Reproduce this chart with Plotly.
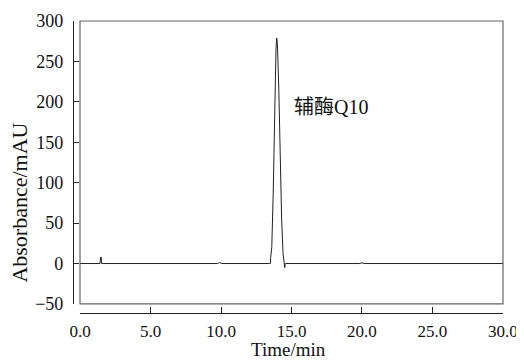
import plotly.graph_objects as go

# Chromatogram (time in min, absorbance in mAU)
time_min = [0.0, 1.42, 1.47, 1.5, 1.53, 1.58, 9.75, 9.9, 10.05, 13.45, 13.5, 13.52,
            13.6, 13.7, 13.8, 13.9, 13.95, 14.0, 14.1, 14.2, 14.3, 14.4, 14.48,
            14.52, 14.56, 19.85, 20.0, 20.15, 30.0]
absorbance = [0.0, 0.0, 8.0, 8.0, 0.0, 0.0, 0.0, 1.2, 0.0, 0.0, 0.0, 7.0,
              20.0, 85.0, 185.0, 265.0, 279.0, 272.0, 215.0, 130.0, 55.0, 12.0, 2.0,
              -5.0, 0.0, 0.0, 1.0, 0.0, 0.0]

x_ticks = [0, 5, 10, 15, 20, 25, 30]
y_ticks = [-50, 0, 50, 100, 150, 200, 250, 300]
peak_label = "辅酶Q10"
peak_label_pos = (15.0, 194)
x_title = "Time/min"
y_title = "Absorbance/mAU"

FONT = "Liberation Serif, Times New Roman, Noto Sans CJK SC, serif"

fig = go.Figure()
fig.add_trace(go.Scatter(x=time_min, y=absorbance, mode="lines",
                         line=dict(color="#222222", width=1), hoverinfo="skip",
                         showlegend=False))

fig.add_annotation(x=peak_label_pos[0], y=peak_label_pos[1], text=peak_label,
                   showarrow=False, xanchor="left", yanchor="middle",
                   font=dict(family=FONT, size=20, color="#111111"))

# axis titles
fig.add_annotation(xref="paper", yref="paper", x=0.5, y=-0.1644, text=x_title,
                   showarrow=False, xanchor="center", yanchor="bottom",
                   borderpad=0,
                   font=dict(family=FONT, size=19, color="#111111"))
fig.add_annotation(xref="paper", yref="paper", x=-0.124, y=0.377, text=y_title,
                   showarrow=False, xanchor="center", yanchor="middle", textangle=-90,
                   font=dict(family=FONT, size=22, color="#111111"))

# plot frame
fig.add_shape(type="rect", xref="x domain", yref="y domain", x0=0, x1=1, y0=0, y1=1,
              line=dict(color="#666666", width=1.2), fillcolor="rgba(0,0,0,0)")

# the page body adds an 8px offset, so the figure is 8px smaller
fig.update_layout(
    width=516, height=353,
    margin=dict(l=65, r=21, t=13, b=48, autoexpand=False),
    paper_bgcolor="white", plot_bgcolor="white",
    font=dict(family=FONT, size=18, color="#111111"),
    xaxis=dict(range=[0, 30], domain=[0.0163, 1], anchor="free", position=0,
               tickvals=x_ticks, ticktext=[f"{v:.1f}" for v in x_ticks],
               ticks="inside", ticklen=6, tickcolor="#222222", tickwidth=1.2,
               showline=True, linecolor="#222222", linewidth=1.2,
               showgrid=False, zeroline=False, automargin=False,
               tickfont=dict(size=17), ticklabelstandoff=2),
    yaxis=dict(range=[-50, 300], domain=[0.031, 1], anchor="free", position=0,
               tickvals=y_ticks, ticks="inside", ticklen=5, tickcolor="#222222",
               tickwidth=1.2, showline=True, linecolor="#222222", linewidth=1.2,
               showgrid=False, zeroline=False, ticklabelstandoff=6, automargin=False),
)

fig.write_html("out.html")
